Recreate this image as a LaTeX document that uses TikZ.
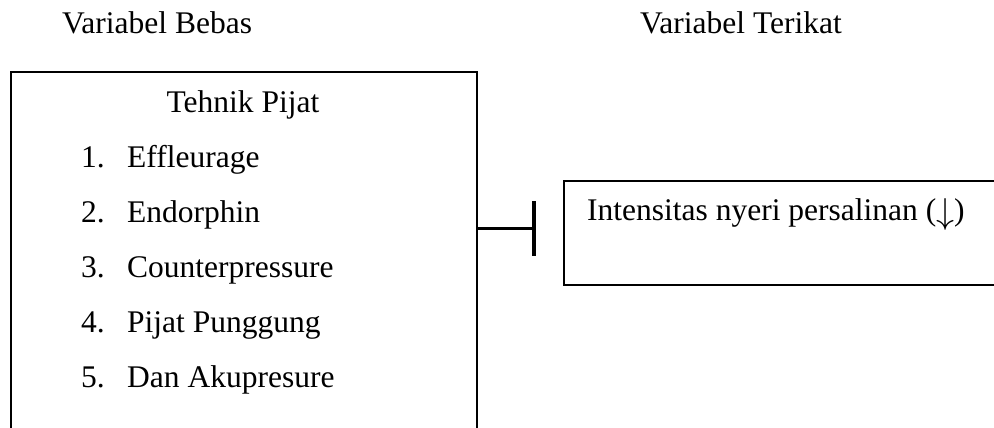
\documentclass[tikz,border=0pt]{standalone}
\usepackage{graphicx}
\usepackage{fontspec}
\setmainfont{Liberation Serif}
\begin{document}
\begin{tikzpicture}[x=1pt,y=-1pt,
  font=\fontsize{31.5}{38}\selectfont,
  txt/.style={inner sep=0pt, anchor=base west},
  box/.style={draw, line width=2pt, inner sep=0pt},
  link/.style={line width=3pt},
  inhib/.style={line width=4pt}]
\useasboundingbox (0,0) rectangle (994,428);
\clip (0,0) rectangle (994,428);
% boxes
\node[box, anchor=north west, minimum width=466pt, minimum height=420pt] (bebas) at (10,71) {};
\node[box, anchor=north west, minimum width=500pt, minimum height=104pt] (terikat) at (563,180) {};
% headings
\node[txt] (vb) at (62,34) {Variabel Bebas};
\node[txt] (vt) at (640,34) {Variabel Terikat};
% left box content
\node[inner sep=0pt, anchor=base] (tp) at (243,112) {Tehnik Pijat};
\foreach \i/\t in {1/Effleurage,2/Endorphin,3/Counterpressure,4/Pijat Punggung,5/Dan Akupresure}{
  \node[txt] (n\i) at (81,{167+55*(\i-1)}) {\i.};
  \node[txt] (t\i) at (127,{167+55*(\i-1)}) {\t};
}
% right box content
\node[txt] (it) at (587,220) {Intensitas nyeri persalinan (\raisebox{-0.12em}{\scalebox{1.45}{$\downarrow$}})};
% connector
\coordinate (bar) at (534,228);
\draw[link] (bebas.east |- bar) -- (bar);
\draw[inhib] (bar) ++(0,-27) -- ++(0,55);
\end{tikzpicture}
\end{document}
